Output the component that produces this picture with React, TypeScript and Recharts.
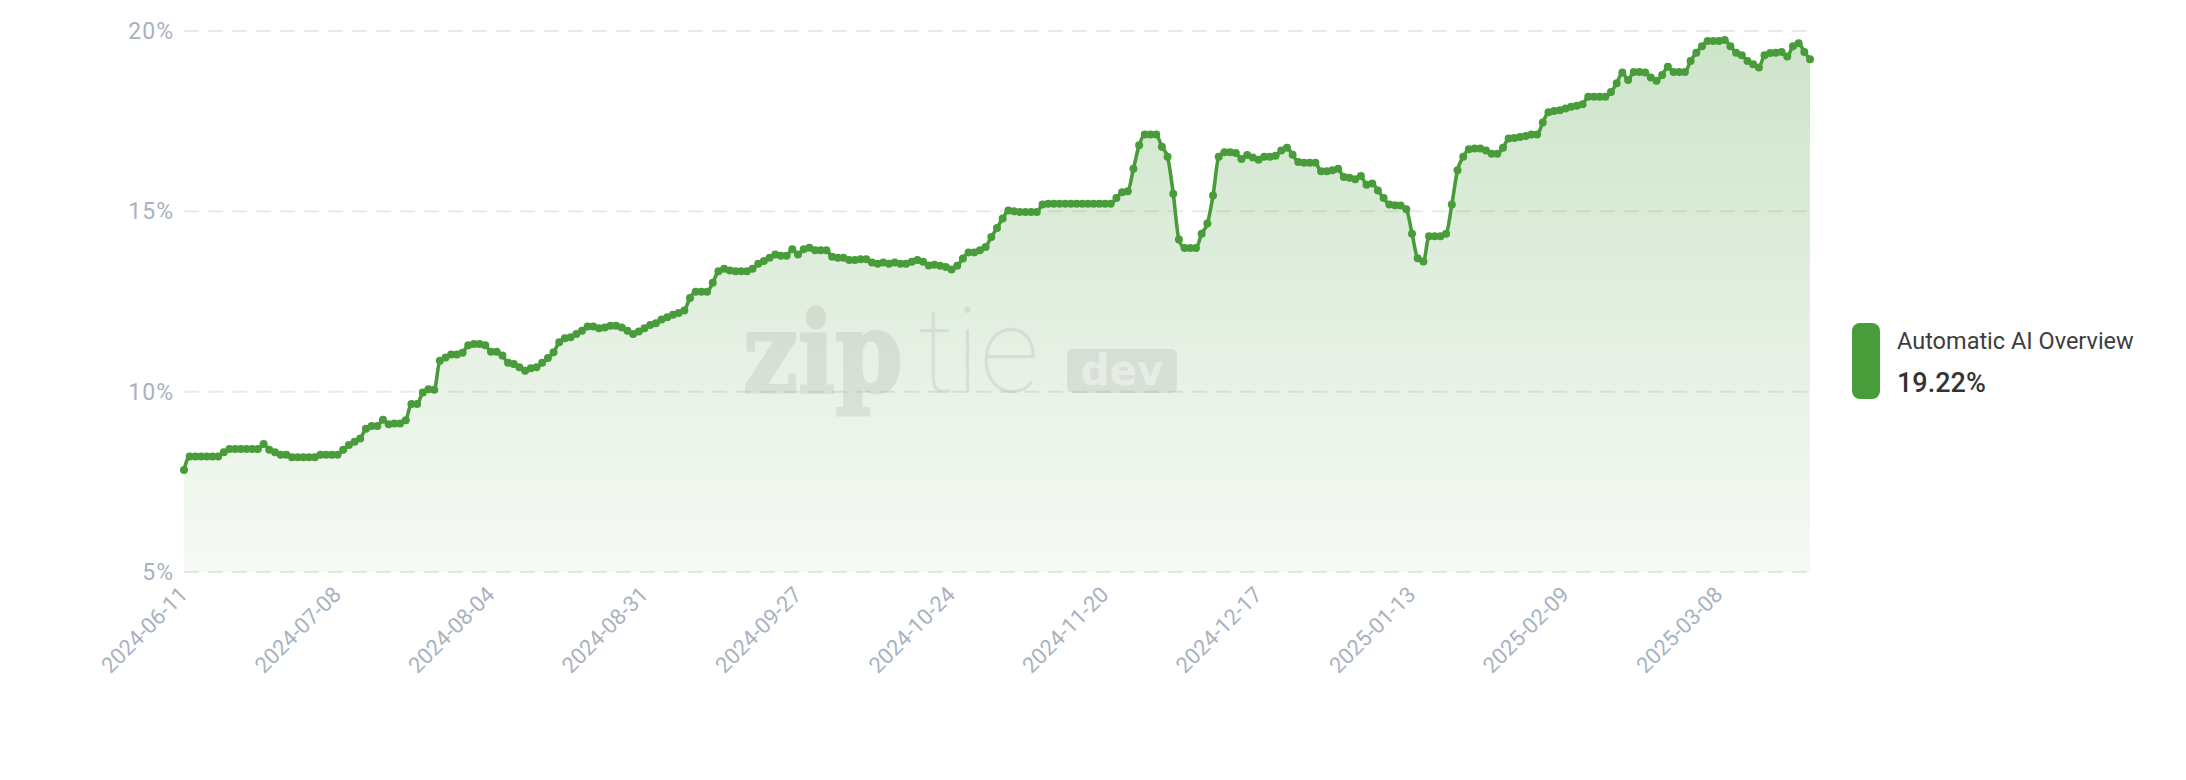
import React from "react";
import { AreaChart, Area, XAxis, YAxis, CartesianGrid } from "recharts";

const SERIES_NAME = "Automatic AI Overview";
const GREEN = "#489c3a";
const TICK_COLOR = "#a9b2bf";

// one array per month, one value per day (share of queries, %)
const MONTHS = ["2024-06", "2024-07", "2024-08", "2024-09", "2024-10", "2024-11", "2024-12", "2025-01", "2025-02", "2025-03"];
const FIRST_DAY = [11, 1, 1, 1, 1, 1, 1, 1, 1, 1];

const jun2024 = [7.83, 8.2, 8.2, 8.2, 8.2, 8.2, 8.2, 8.32, 8.41, 8.41, 8.41, 8.41, 8.41, 8.41, 8.55, 8.39, 8.32, 8.25, 8.25, 8.18];
const jul2024 = [8.18, 8.18, 8.18, 8.18, 8.25, 8.25, 8.25, 8.25, 8.39, 8.52, 8.61, 8.7, 8.97, 9.05, 9.05, 9.22, 9.1, 9.12, 9.12, 9.21, 9.66, 9.66, 9.98, 10.07, 10.05, 10.86, 10.95, 11.03, 11.03, 11.08, 11.29];
const aug2024 = [11.32, 11.32, 11.29, 11.11, 11.11, 11.0, 10.8, 10.77, 10.68, 10.58, 10.65, 10.68, 10.8, 10.93, 11.09, 11.37, 11.48, 11.51, 11.6, 11.69, 11.81, 11.81, 11.76, 11.78, 11.83, 11.83, 11.78, 11.69, 11.6, 11.67, 11.76];
const sep2024 = [11.85, 11.9, 12.0, 12.06, 12.13, 12.18, 12.25, 12.6, 12.77, 12.77, 12.77, 13.02, 13.34, 13.41, 13.36, 13.34, 13.34, 13.34, 13.41, 13.55, 13.62, 13.71, 13.8, 13.77, 13.77, 13.95, 13.8, 13.95, 13.99, 13.92];
const oct2024 = [13.92, 13.92, 13.74, 13.71, 13.71, 13.65, 13.65, 13.67, 13.67, 13.58, 13.55, 13.58, 13.55, 13.58, 13.55, 13.55, 13.6, 13.65, 13.6, 13.5, 13.52, 13.49, 13.46, 13.39, 13.49, 13.69, 13.86, 13.86, 13.92, 14.01, 14.29];
const nov2024 = [14.54, 14.8, 15.02, 15.0, 14.98, 14.98, 14.98, 14.98, 15.19, 15.21, 15.21, 15.21, 15.21, 15.21, 15.21, 15.21, 15.21, 15.21, 15.21, 15.21, 15.21, 15.37, 15.53, 15.56, 16.18, 16.83, 17.13, 17.13, 17.13, 16.79];
const dec2024 = [16.51, 15.49, 14.22, 13.98, 13.98, 13.98, 14.38, 14.66, 15.44, 16.51, 16.64, 16.64, 16.62, 16.45, 16.56, 16.49, 16.43, 16.51, 16.51, 16.54, 16.69, 16.76, 16.57, 16.37, 16.35, 16.35, 16.35, 16.11, 16.11, 16.14, 16.18];
const jan2025 = [15.95, 15.93, 15.89, 15.98, 15.74, 15.77, 15.58, 15.37, 15.19, 15.17, 15.16, 15.06, 14.38, 13.7, 13.61, 14.31, 14.31, 14.31, 14.38, 15.19, 16.14, 16.51, 16.72, 16.74, 16.74, 16.69, 16.6, 16.6, 16.76, 17.02, 17.03];
const feb2025 = [17.06, 17.09, 17.13, 17.13, 17.46, 17.75, 17.78, 17.8, 17.85, 17.9, 17.93, 17.97, 18.18, 18.18, 18.18, 18.18, 18.31, 18.55, 18.85, 18.64, 18.86, 18.86, 18.85, 18.71, 18.62, 18.78, 19.01, 18.86];
const mar2025 = [18.86, 18.86, 19.17, 19.4, 19.58, 19.72, 19.72, 19.72, 19.75, 19.58, 19.4, 19.33, 19.17, 19.08, 18.99, 19.33, 19.39, 19.4, 19.42, 19.29, 19.58, 19.66, 19.42, 19.22];

const MONTH_VALUES = [jun2024, jul2024, aug2024, sep2024, oct2024, nov2024, dec2024, jan2025, feb2025, mar2025];
const Y_TICKS = [5, 10, 15, 20];

const data = MONTH_VALUES.flatMap((vals, m) =>
  vals.map((v, i) => ({
    date: `${MONTHS[m]}-${String(FIRST_DAY[m] + i).padStart(2, "0")}`,
    value: v,
  }))
);
const lastValue = data[data.length - 1].value;

function DateTick(props: any) {
  const { x, y, payload } = props;
  const px = x + 5;
  const py = y + 24;
  return (
    <text
      x={px}
      y={py}
      transform={`rotate(-45 ${px} ${py})`}
      textAnchor="end"
      fill={TICK_COLOR}
      fontSize={22}
      fontFamily="Roboto"
    >
      {payload.value}
    </text>
  );
}

export default function App() {
  return (
    <div style={{ position: "relative", width: 2186, height: 780, background: "#fff" }}>
      <style>{"body{margin:0}"}</style>
      <AreaChart width={2186} height={780} data={data} margin={{ top: 31, right: 376, bottom: 0, left: 0 }}>
        <defs>
          <linearGradient id="aiFill" x1="0" y1="0" x2="0" y2="1">
            <stop offset="0" stopColor={GREEN} stopOpacity={0.27} />
            <stop offset="1" stopColor={GREEN} stopOpacity={0.05} />
          </linearGradient>
        </defs>
        <CartesianGrid vertical={false} stroke="#e9e9e9" strokeWidth={2} strokeDasharray="15 9" />
        <XAxis
          dataKey="date"
          interval={26}
          height={208}
          axisLine={false}
          tickLine={false}
          tickSize={0}
          tickMargin={0}
          tick={<DateTick />}
        />
        <YAxis
          width={184}
          domain={[5, 20]}
          ticks={Y_TICKS}
          tickFormatter={(v) => `${v}%`}
          axisLine={false}
          tickLine={false}
          tickSize={0}
          tickMargin={10}
          tick={{ fill: TICK_COLOR, fontSize: 23, fontFamily: "Roboto", letterSpacing: 1 }}
        />
        <Area
          type="monotone"
          dataKey="value"
          name={SERIES_NAME}
          stroke={GREEN}
          strokeWidth={3.6}
          fill="url(#aiFill)"
          fillOpacity={1}
          dot={{ r: 4, fill: GREEN, stroke: GREEN, strokeWidth: 0 }}
          activeDot={false}
          isAnimationActive={false}
        />
      </AreaChart>
      <svg width={2186} height={780} style={{ position: "absolute", left: 0, top: 0, pointerEvents: "none" }}>
        {/* watermark */}
        <g opacity={0.15} fill="#808080">
          <g transform="translate(743 392) scale(1 1.16)">
            <text x={0} y={0} fontFamily="DejaVu Serif" fontWeight="bold" fontSize={97} stroke="#808080" strokeWidth={2.5}>
              zip
            </text>
          </g>
          <text x={918} y={392} fontFamily="Roboto" fontWeight={100} fontSize={118}>
            tie
          </text>
        </g>
        <rect x={1067} y={349} width={110} height={44} rx={6} fill="rgba(128,128,128,0.16)" />
        <text x={1122} y={385} textAnchor="middle" fontFamily="DejaVu Sans" fontWeight="bold" fontSize={42} textLength={83} lengthAdjust="spacingAndGlyphs" fill="rgba(255,255,255,0.42)">
          dev
        </text>
        {/* legend */}
        <rect x={1852} y={323} width={28} height={76} rx={8} fill={GREEN} />
        <text x={1897} y={349} fontFamily="Roboto" fontSize={23.5} fill="#3d3d3d">
          {SERIES_NAME}
        </text>
        <text x={1897} y={392} fontFamily="Roboto" fontWeight={500} fontSize={27} fill="#333">
          {`${lastValue.toFixed(2)}%`}
        </text>
      </svg>
    </div>
  );
}
